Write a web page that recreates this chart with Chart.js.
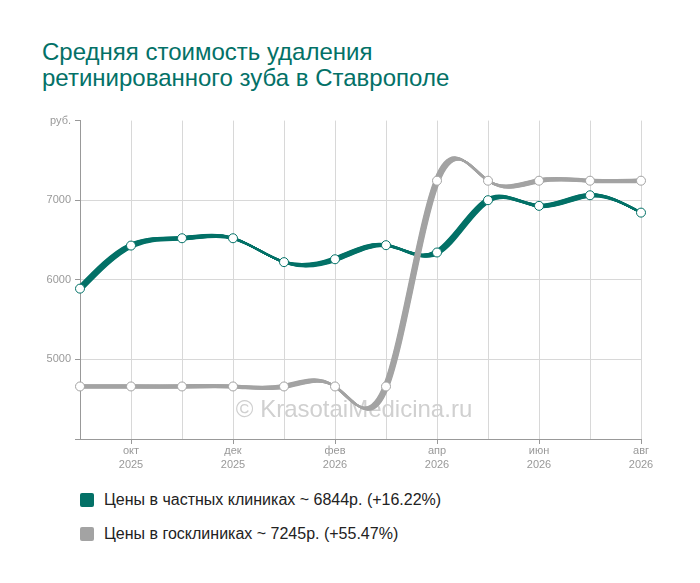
<!DOCTYPE html>
<html lang="ru">
<head>
    <meta charset="UTF-8"/>
    <title>Средняя стоимость удаления ретинированного зуба в Ставрополе</title>
    <script src="https://cdn.jsdelivr.net/npm/chart.js"></script>
    <style>
        html, body {
            margin: 0;
            padding: 0;
            background: #fff;
            font-family: 'Liberation Sans', Arial, sans-serif;
        }
        .page {
            position: relative;
            width: 700px;
            height: 583px;
            overflow: hidden;
        }
        .title {
            position: absolute;
            left: 42px;
            top: 39px;
            font-size: 24px;
            line-height: 26px;
            color: #037167;
        }
        .canvas-wrapper {
            position: absolute;
            left: 0;
            top: 110px;
            width: 700px;
            height: 369px;
        }
        .legend {
            position: absolute;
            left: 80px;
            top: 490px;
            font-size: 16px;
            color: #222;
        }
        .legend-item {
            display: flex;
            align-items: center;
            height: 20px;
            margin-bottom: 14px;
        }
        .legend-box {
            width: 14px;
            height: 14px;
            border-radius: 2px;
            margin-right: 10px;
        }
    </style>
</head>
<body>
<div class="page">
    <div class="title">Средняя стоимость удаления<br>ретинированного зуба в Ставрополе</div>
    <div class="canvas-wrapper">
        <canvas id="priceChart"></canvas>
    </div>
    <div class="legend" id="legend"></div>
</div>

<script>
    // months from Sep 2025 to Aug 2026
    const months = ['сен', 'окт', 'ноя', 'дек', 'янв', 'фев', 'мар', 'апр', 'май', 'июн', 'июл', 'авг'];
    const years = ['2025', '2025', '2025', '2025', '2026', '2026', '2026', '2026', '2026', '2026', '2026', '2026'];

    // average prices, rub.
    const privatePrices = [5889, 6430, 6522, 6522, 6222, 6258, 6435, 6343, 7000, 6929, 7062, 6844];
    const publicPrices = [4660, 4660, 4660, 4660, 4660, 4660, 4660, 7245, 7245, 7245, 7245, 7245];

    const yTicks = [4000, 5000, 6000, 7000, 8000];

    const privateLabel = 'Цены в частных клиниках ~ 6844р. (+16.22%)';
    const publicLabel = 'Цены в госклиниках ~ 7245р. (+55.47%)';

    const tealColor = '#037167';
    const greyColor = '#a3a3a3';

    // tangents of a natural cubic spline through equally spaced values
    function splineTangents(vals) {
        const n = vals.length;
        const b = [], c = [], d = [];
        b[0] = 2; c[0] = 1; d[0] = 3 * (vals[1] - vals[0]);
        for (let i = 1; i < n - 1; i++) {
            b[i] = 4; c[i] = 1; d[i] = 3 * (vals[i + 1] - vals[i - 1]);
        }
        b[n - 1] = 2; c[n - 1] = 0; d[n - 1] = 3 * (vals[n - 1] - vals[n - 2]);
        for (let i = 1; i < n; i++) {
            const m = 1 / b[i - 1];
            b[i] -= m * c[i - 1];
            d[i] -= m * d[i - 1];
        }
        const t = new Array(n);
        t[n - 1] = d[n - 1] / b[n - 1];
        for (let i = n - 2; i >= 0; i--) t[i] = (d[i] - c[i] * t[i + 1]) / b[i];
        return t;
    }

    // smooth lines like the original (natural spline) and give them the ribbon look
    const ribbonLines = {
        id: 'ribbonLines',
        beforeDatasetDraw(chart, args) {
            const meta = args.meta;
            const line = meta.dataset;
            const pts = meta.data;
            if (!line || pts.length < 3) return;
            line.updateControlPoints(chart.chartArea, meta.indexAxis);
            const tx = splineTangents(pts.map(p => p.x));
            const ty = splineTangents(pts.map(p => p.y));
            pts.forEach((p, i) => {
                p.cp1x = p.x - tx[i] / 3;
                p.cp1y = p.y - ty[i] / 3;
                p.cp2x = p.x + tx[i] / 3;
                p.cp2y = p.y + ty[i] / 3;
            });
            line._path = undefined;
            const ctx = chart.ctx;
            const steps = 8;
            for (let s = 0; s <= steps; s++) {
                const k = s / steps - 0.5;
                if (Math.abs(k) < 0.01) continue;
                ctx.save();
                ctx.translate(k * 4, k * 2.4);
                line.draw(ctx, chart.chartArea);
                ctx.restore();
            }
        }
    };

    const watermark = {
        id: 'watermark',
        beforeDatasetsDraw(chart) {
            const ctx = chart.ctx;
            ctx.save();
            ctx.font = '24px "Liberation Sans", Arial, sans-serif';
            ctx.fillStyle = '#d0d0d0';
            ctx.textAlign = 'center';
            ctx.textBaseline = 'alphabetic';
            ctx.fillText('© KrasotaiMedicina.ru', 354, 307);
            ctx.restore();
        }
    };

    const ctxPrice = document.getElementById('priceChart').getContext('2d');

    const priceChart = new Chart(ctxPrice, {
        type: 'line',
        data: {
            labels: months,
            datasets: [{
                label: privateLabel,
                data: privatePrices,
                borderColor: tealColor,
                borderWidth: 2,
                tension: 0.4,
                pointRadius: 4.5,
                pointBorderWidth: 1,
                pointBackgroundColor: '#fff',
                pointBorderColor: tealColor,
                order: 2
            }, {
                label: publicLabel,
                data: publicPrices,
                borderColor: greyColor,
                borderWidth: 2,
                tension: 0.4,
                pointRadius: 4.5,
                pointBorderWidth: 1,
                pointBackgroundColor: '#fff',
                pointBorderColor: greyColor,
                order: 1
            }]
        },
        options: {
            responsive: true,
            maintainAspectRatio: false,
            animation: false,
            layout: {
                padding: {left: 0, right: 59, top: 10, bottom: 0}
            },
            scales: {
                x: {
                    offset: false,
                    border: {color: '#999', width: 1},
                    grid: {
                        color: '#d8d8d8',
                        tickLength: 5,
                        tickColor: ctx => (ctx.index % 2 === 1 ? '#999' : 'rgba(0,0,0,0)')
                    },
                    ticks: {
                        autoSkip: false,
                        maxRotation: 0,
                        padding: 0,
                        color: '#999',
                        font: {family: "'Liberation Sans', Arial, sans-serif", size: 11, lineHeight: 1.25},
                        callback: function (value, index) {
                            return index % 2 === 1 ? [months[index], years[index]] : '';
                        }
                    },
                    afterFit: scale => { scale.height = 40; }
                },
                y: {
                    min: yTicks[0],
                    max: yTicks[yTicks.length - 1],
                    afterBuildTicks: scale => { scale.ticks = yTicks.map(v => ({value: v})); },
                    border: {color: '#999', width: 1},
                    grid: {
                        color: ctx => (ctx.tick && ctx.tick.value === 8000 ? 'rgba(0,0,0,0)' : '#d8d8d8'),
                        tickColor: '#999',
                        tickLength: 5
                    },
                    ticks: {
                        padding: 4,
                        color: '#999',
                        font: {family: "'Liberation Sans', Arial, sans-serif", size: 11},
                        callback: function (value) {
                            if (value === 8000) return 'руб.';
                            if (value === 4000) return '';
                            return value;
                        }
                    },
                    afterFit: scale => { scale.width = 80; }
                }
            },
            plugins: {
                legend: {display: false},
                tooltip: {enabled: false}
            }
        },
        plugins: [watermark, ribbonLines]
    });

    // legend under the chart
    const legendEl = document.getElementById('legend');
    [[tealColor, privateLabel], [greyColor, publicLabel]].forEach(([color, text]) => {
        const item = document.createElement('div');
        item.className = 'legend-item';
        const box = document.createElement('span');
        box.className = 'legend-box';
        box.style.background = color;
        const label = document.createElement('span');
        label.textContent = text;
        item.appendChild(box);
        item.appendChild(label);
        legendEl.appendChild(item);
    });
</script>
</body>
</html>
